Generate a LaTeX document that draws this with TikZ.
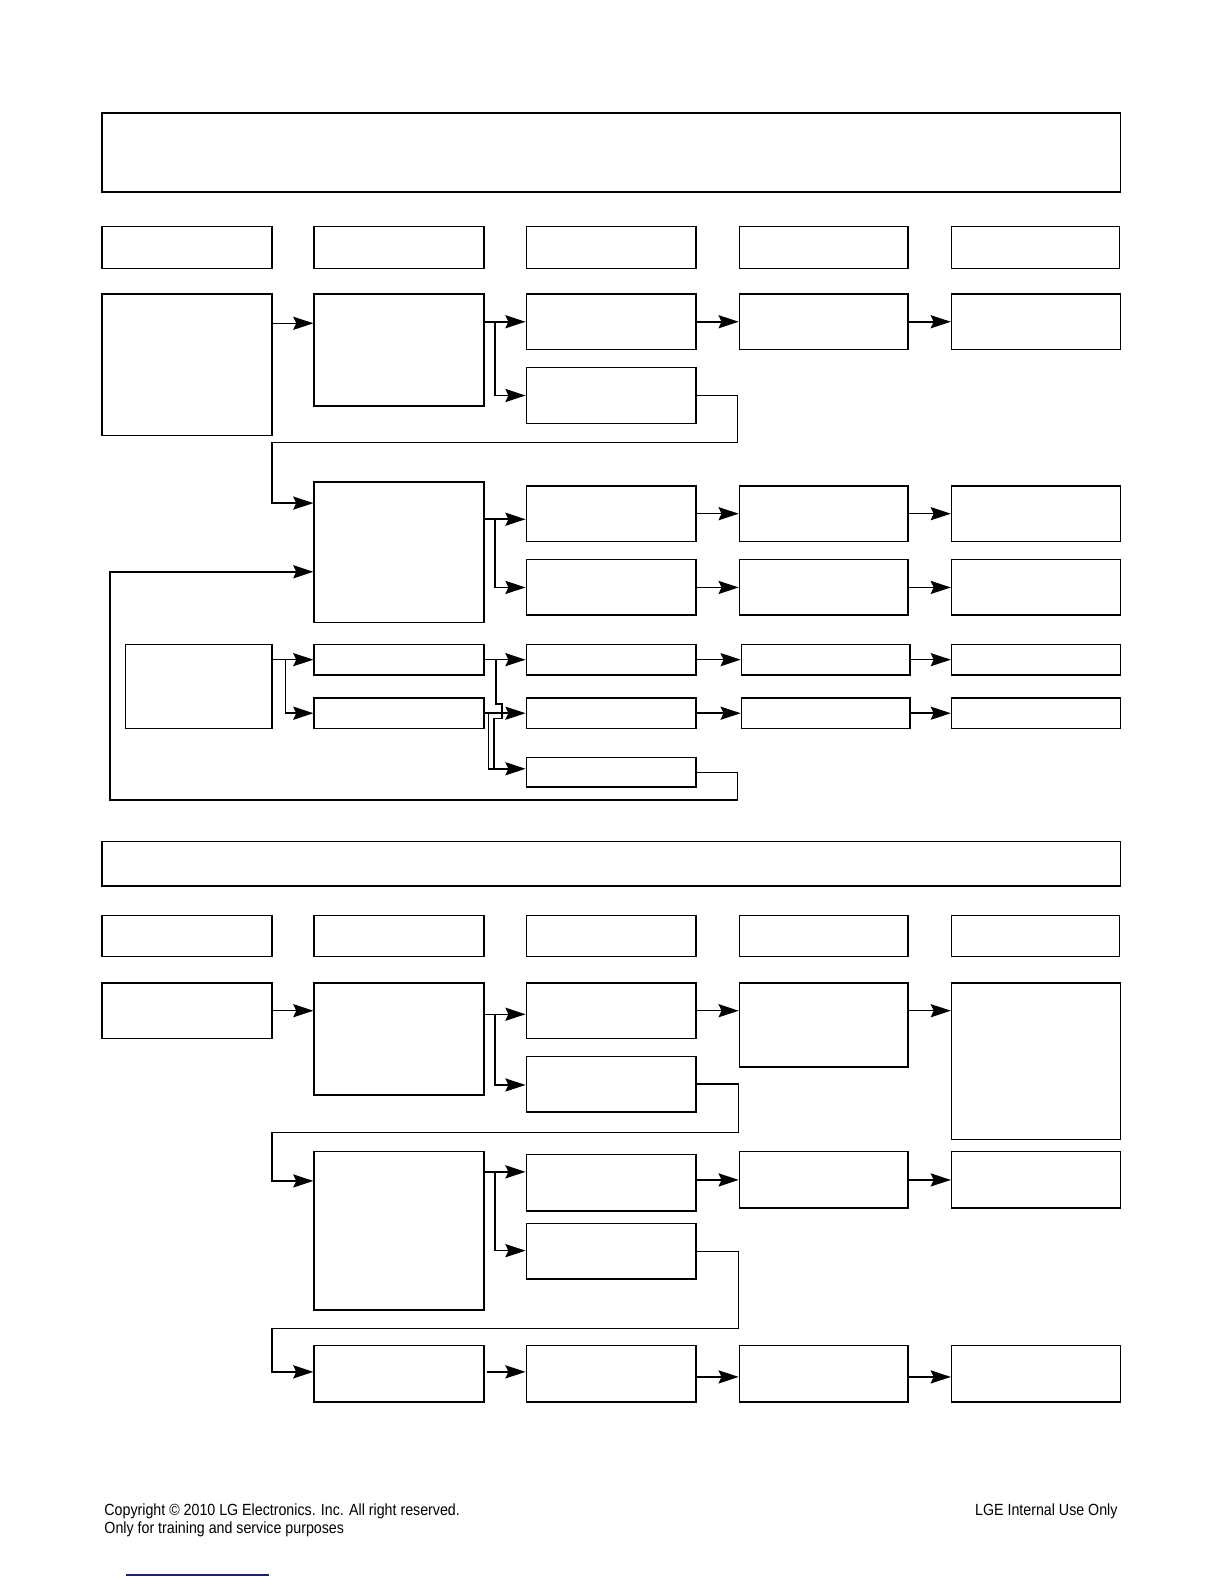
\documentclass[tikz,border=0pt]{standalone}
\usepackage{fontspec}
\newfontfamily\footfont[FakeStretch = 0.88]{Liberation Sans}
\usetikzlibrary{fit, arrows.meta}
\definecolor{linkblue}{RGB}{28, 28, 140}
\tikzset{
  blk/.style = {draw, inner sep = 0pt, line width = .75pt},
  wire/.style = {line width = .75pt},
  arr/.style = {wire, -{Stealth[length = 10bp, width = 6.5bp, inset = 1.5bp]}},
  foot/.style = {inner sep = 0pt, font = \footfont\fontsize{8bp}{9bp}\selectfont}
}
\begin{document}
\begin{tikzpicture}[x = .5bp, y = -.5bp]
  \useasboundingbox (0, 0) rectangle (1211.5, 1568);

  % titles and column heads
  \node[blk, fit = {(101, 112) (1109, 190)}] (title) {};
  \node[blk, fit = {(101, 833) (1109, 877)}] (title2) {};
  \foreach \n/\l/\r in {1/101/269, 2/311/479, 3/521/689, 4/732/899, 5/942/1108} {
    \node[blk, fit = {(\l, 224) (\r, 266)}] (h\n) {};
    \node[blk, fit = {(\l, 906) (\r, 947)}] (k\n) {};
  }

  % upper part
  \node[blk, fit = {(101, 291) (269, 431)}] (a1) {};
  \node[blk, fit = {(311, 291) (479, 402)}] (b1) {};
  \node[blk, fit = {(521, 291) (689, 346)}] (c1) {};
  \node[blk, fit = {(521, 364) (689, 419)}] (c2) {};
  \node[blk, fit = {(732, 291) (899, 346)}] (d1) {};
  \node[blk, fit = {(942, 291) (1109, 346)}] (e1) {};

  \node[blk, fit = {(311, 477) (479, 616)}] (b2) {};
  \node[blk, fit = {(521, 481) (689, 536)}] (c3) {};
  \node[blk, fit = {(521, 554) (689, 609)}] (c4) {};
  \node[blk, fit = {(732, 481) (899, 536)}] (d2) {};
  \node[blk, fit = {(732, 554) (899, 609)}] (d3) {};
  \node[blk, fit = {(942, 481) (1109, 536)}] (e2) {};
  \node[blk, fit = {(942, 554) (1109, 609)}] (e3) {};

  \node[blk, fit = {(124, 638) (269, 721)}] (f1) {};
  \node[blk, fit = {(311, 638) (479, 668)}] (b3) {};
  \node[blk, fit = {(311, 691) (479, 721)}] (b4) {};
  \node[blk, fit = {(521, 638) (689, 668)}] (c5) {};
  \node[blk, fit = {(521, 691) (689, 721)}] (c6) {};
  \node[blk, fit = {(521, 750) (689, 779)}] (c7) {};
  \node[blk, fit = {(734, 638) (901, 668)}] (d4) {};
  \node[blk, fit = {(734, 691) (901, 721)}] (d5) {};
  \node[blk, fit = {(942, 638) (1109, 668)}] (e4) {};
  \node[blk, fit = {(942, 691) (1109, 721)}] (e5) {};

  \draw[arr] (a1.east |- 0, 320) -- (b1.west |- 0, 320);
  \draw[arr] (b1.east |- c1) -- (c1.west);
  \draw[arr] (b1.east |- c1) -- ++(10, 0) |- (c2.west);
  \draw[arr] (c1.east) -- (d1.west);
  \draw[arr] (d1.east) -- (e1.west);
  \draw[arr] (c2.east) -| (730, 438) -- (269, 438) |- (b2.west |- 0, 498);

  \draw[arr] (b2.east |- 0, 514) -- (c3.west |- 0, 514);
  \draw[arr] (b2.east |- 0, 514) -- ++(10, 0) |- (c4.west);
  \draw[arr] (c3.east) -- (d2.west);
  \draw[arr] (d2.east) -- (e2.west);
  \draw[arr] (c4.east) -- (d3.west);
  \draw[arr] (d3.east) -- (e3.west);

  \draw[arr] (f1.east |- b3) -- (b3.west);
  \draw[arr] (f1.east |- b3) -- ++(13, 0) |- (b4.west);
  \draw[arr] (b3.east) -- (c5.west);
  \draw[arr] (b4.east) -- (c6.west);
  \draw[arr] (c5.east) -- (d4.west);
  \draw[arr] (d4.east) -- (e4.west);
  \draw[arr] (c6.east) -- (d5.west);
  \draw[arr] (d5.east) -- (e5.west);
  \draw[wire] (491, 653) -- (491, 697) -- (497, 697) -- (497, 711) -- (489, 711)
    -- (489, 761);
  \draw[arr] (b4.east) -- ++(4, 0) |- (c7.west |- 0, 761);
  \draw[arr] (c7.east) -| (730, 792) -- (109, 792) |- (b2.west |- 0, 566);

  % lower part
  \node[blk, fit = {(101, 973) (269, 1028)}] (a5) {};
  \node[blk, fit = {(311, 973) (479, 1084)}] (b5) {};
  \node[blk, fit = {(521, 973) (689, 1028)}] (c8) {};
  \node[blk, fit = {(521, 1046) (689, 1101)}] (c9) {};
  \node[blk, fit = {(732, 973) (899, 1056)}] (d6) {};
  \node[blk, fit = {(942, 973) (1109, 1128)}] (e6) {};

  \node[blk, fit = {(311, 1140) (479, 1297)}] (b6) {};
  \node[blk, fit = {(521, 1143) (689, 1199)}] (c10) {};
  \node[blk, fit = {(521, 1211) (689, 1266)}] (c11) {};
  \node[blk, fit = {(732, 1140) (899, 1196)}] (d7) {};
  \node[blk, fit = {(942, 1140) (1109, 1196)}] (e7) {};

  \node[blk, fit = {(311, 1332) (479, 1388)}] (b7) {};
  \node[blk, fit = {(521, 1332) (689, 1388)}] (c12) {};
  \node[blk, fit = {(732, 1332) (899, 1388)}] (d8) {};
  \node[blk, fit = {(942, 1332) (1109, 1388)}] (e8) {};

  \draw[arr] (a5.east) -- (a5.east -| b5.west);
  \draw[arr] (b5.east |- 0, 1004) -- (c8.west |- 0, 1004);
  \draw[arr] (b5.east |- 0, 1004) -- ++(10, 0) |- (c9.west |- 0, 1074);
  \draw[arr] (c8.east) -- (c8.east -| d6.west);
  \draw[arr] (d6.east |- c8) -- (e6.west |- c8);
  \draw[arr] (c9.east |- 0, 1073) -| (731, 1121) -- (269, 1121) |- (b6.west |- 0, 1169);

  \draw[arr] (b6.east |- 0, 1160) -- (c10.west |- 0, 1160);
  \draw[arr] (b6.east |- 0, 1160) -- ++(10, 0) |- (c11.west |- 0, 1238);
  \draw[arr] (c10.east |- d7) -- (d7.west);
  \draw[arr] (d7.east) -- (e7.west);
  \draw[arr] (c11.east |- 0, 1239) -| (731, 1315) -- (269, 1315) |- (b7.west |- 0, 1358);

  \draw[arr] ([xshift = 1bp]b7.east |- 0, 1358) -- (c12.west |- 0, 1358);
  \draw[arr] (c12.east |- 0, 1363) -- (d8.west |- 0, 1363);
  \draw[arr] (d8.east |- 0, 1363) -- (e8.west |- 0, 1363);

  % footer
  \node[foot, anchor = base west] (copy) at (103, 1500.5)
    {Copyright © 2010 LG Electronics. Inc. All right reserved.};
  \node[foot, anchor = base west] (train) at (103, 1518)
    {Only for training and service purposes};
  \node[foot, anchor = base east] (lge) at (1106.6, 1500.5) {LGE Internal Use Only};
  \draw[linkblue, line width = .6pt] (125, 1559) -- (266, 1559);
\end{tikzpicture}
\end{document}
